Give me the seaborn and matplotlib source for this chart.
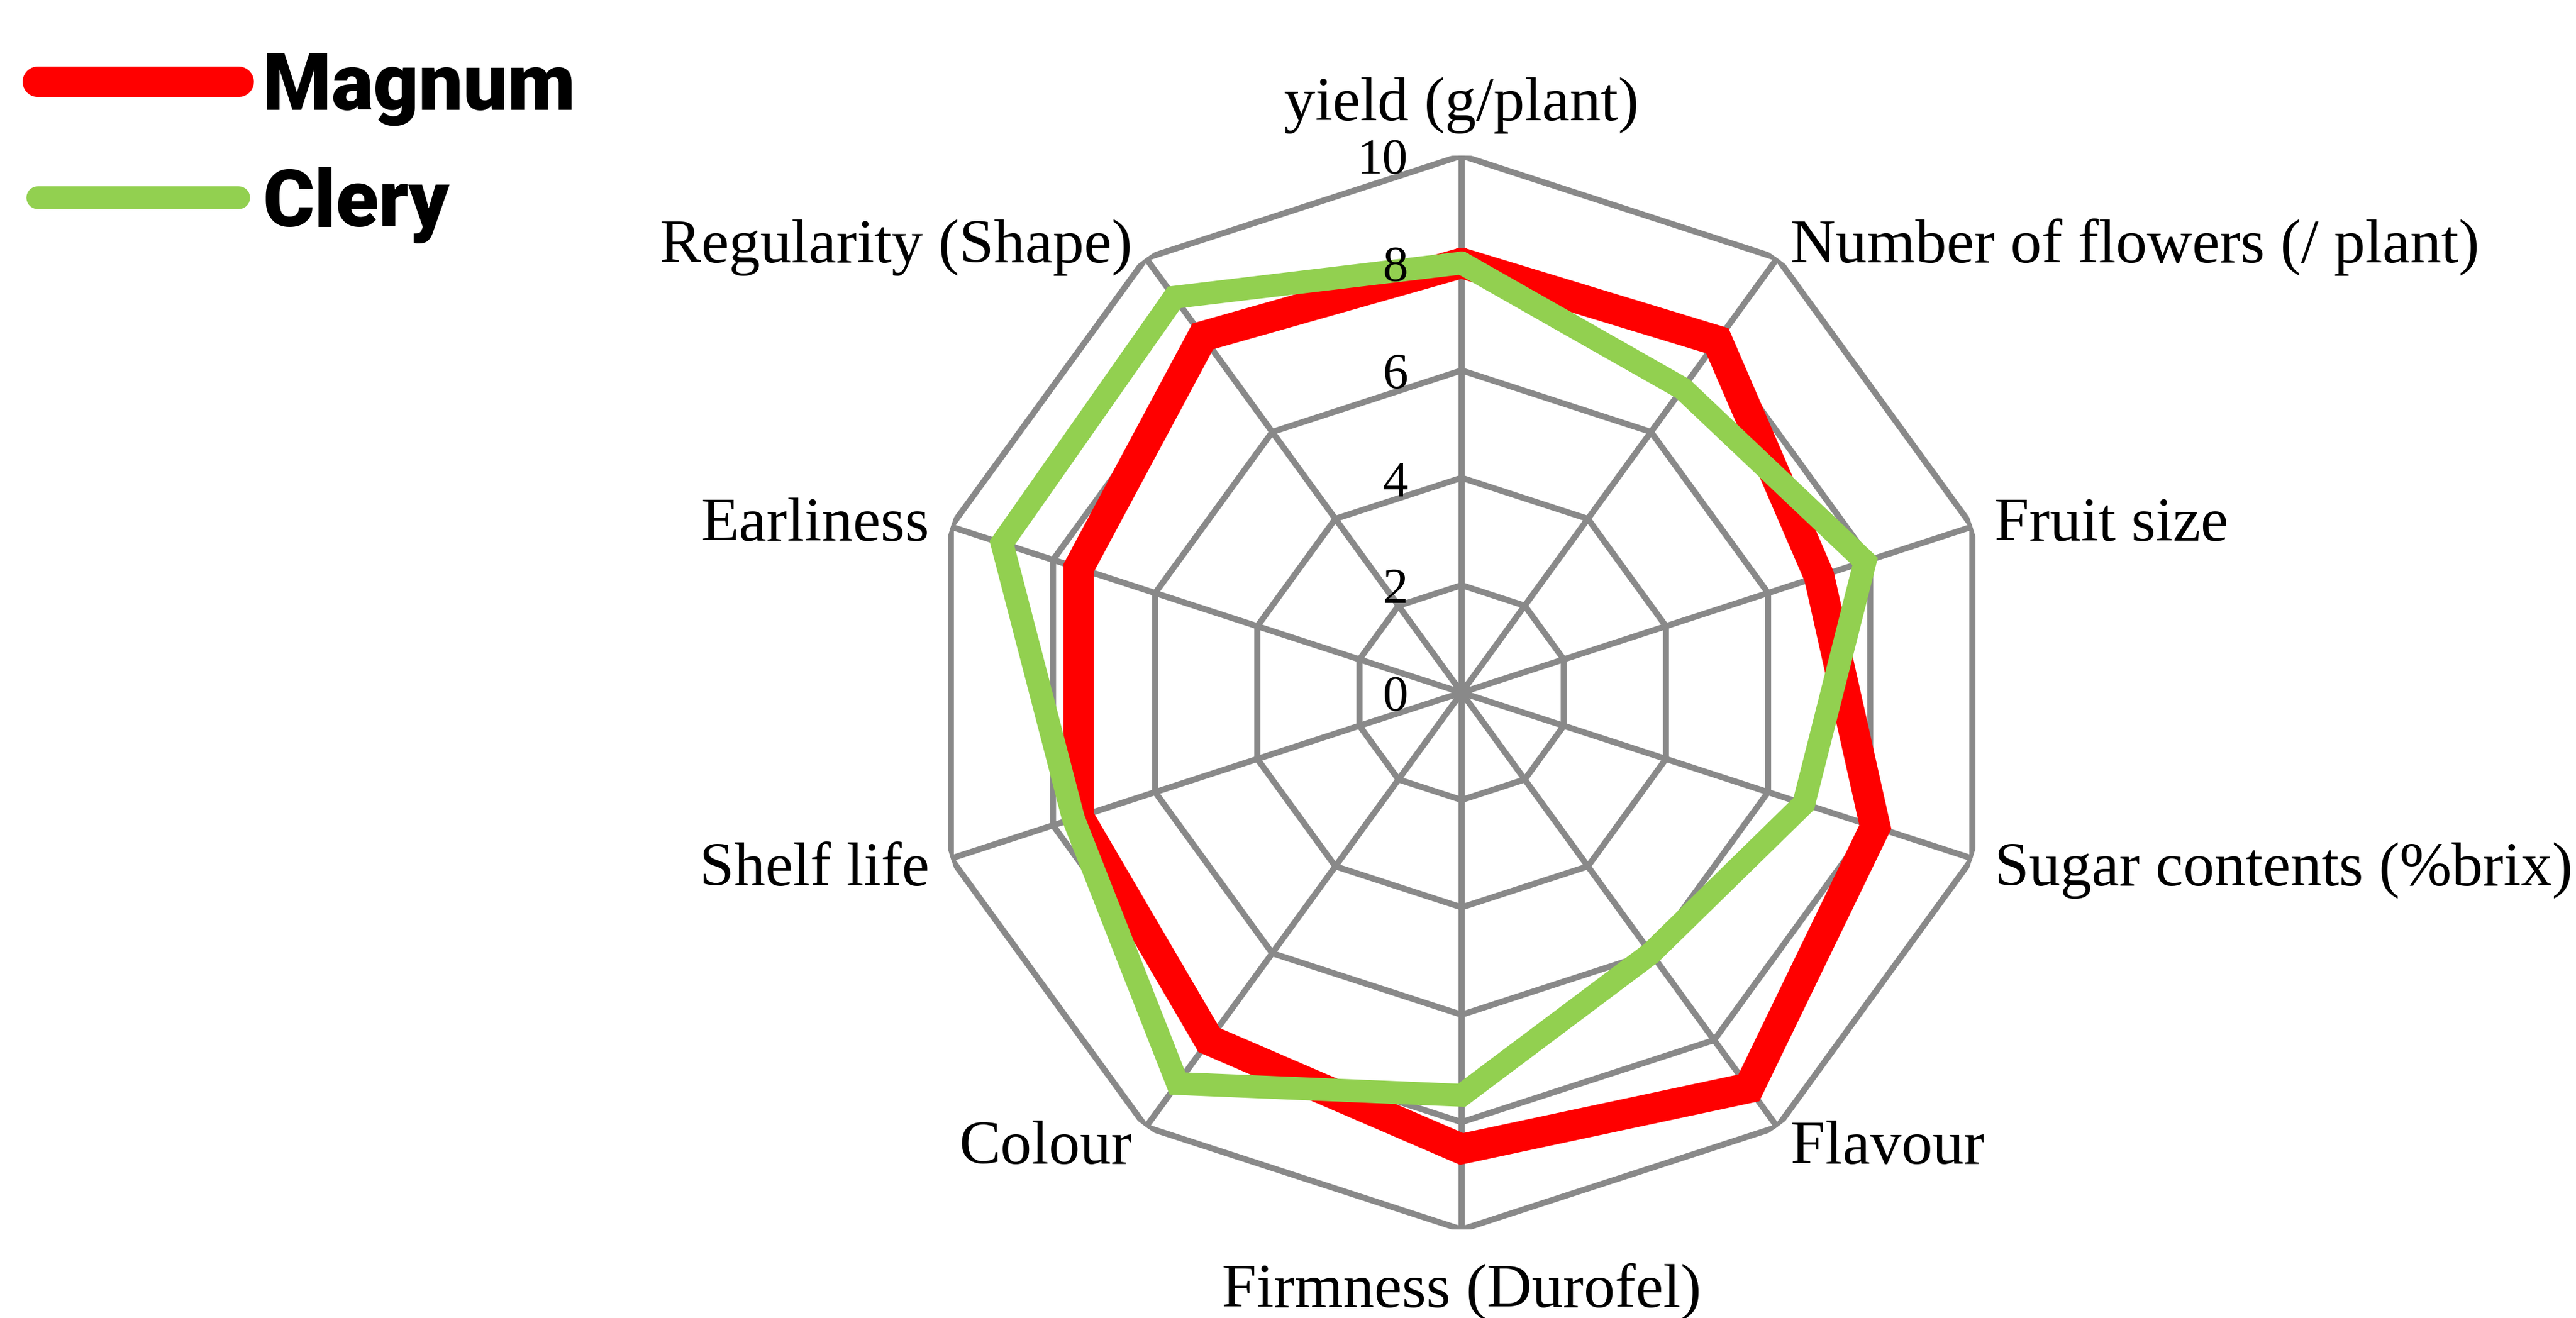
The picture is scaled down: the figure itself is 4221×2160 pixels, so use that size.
import numpy as np
import pandas as pd
import seaborn as sns
import matplotlib.pyplot as plt
from matplotlib import transforms as mtransforms

# data
categories = ['yield (g/plant)', 'Number of flowers (/ plant)', 'Fruit size',
              'Sugar contents (%brix)', 'Flavour', 'Firmness (Durofel)', 'Colour',
              'Shelf life', 'Earliness', 'Regularity (Shape)']
magnum = [8.0, 8.1, 7.0, 8.1, 9.1, 8.5, 8.0, 7.5, 7.5, 8.2]
clery = [8.0, 7.0, 7.9, 6.7, 6.0, 7.5, 9.0, 7.6, 9.0, 9.1]
r_ticks = [0, 2, 4, 6, 8, 10]

sns.set_style('white')
plt.rcParams['font.family'] = ['Liberation Serif', 'DejaVu Serif']
plt.rcParams['text.color'] = 'black'

n = len(categories)
angles = np.linspace(0, 2 * np.pi, n, endpoint=False)
closed = np.append(angles, angles[0])

df = pd.DataFrame({
    'theta': np.concatenate([closed, closed]),
    'value': magnum + [magnum[0]] + clery + [clery[0]],
    'variety': ['Magnum'] * (n + 1) + ['Clery'] * (n + 1),
})

fig = plt.figure(figsize=(14.07, 7.2033), dpi=300)
cx, cy = 0.5674, 0.4743
rw, rh = 0.2085, 0.4072
ax = fig.add_axes([cx - rw, cy - rh, 2 * rw, 2 * rh], projection='polar')
ax.set_theta_zero_location('N')
ax.set_theta_direction(-1)
ax.set_ylim(0, 10)
ax.grid(False)
ax.spines['polar'].set_visible(False)
ax.set_xticks([])
ax.set_yticks([])

# polygon grid like excel
grid_col = '#898989'
for r in r_ticks[1:]:
    ax.plot(closed, [r] * (n + 1), color=grid_col, lw=2.4, zorder=1)
for a in angles:
    ax.plot([a, a], [0, 10], color=grid_col, lw=2.4, zorder=1)

styles = {'Magnum': ('#FF0000', 12), 'Clery': ('#92D050', 9)}
for name in ['Magnum', 'Clery']:
    col, lw = styles[name]
    sns.lineplot(data=df[df['variety'] == name], x='theta', y='value', sort=False,
                 estimator=None, color=col, lw=lw, label=name, ax=ax, zorder=3,
                 solid_joinstyle='miter', solid_capstyle='round')
ax.set_xlabel('')
ax.set_ylabel('')

# radial tick labels on the top spoke
tick_tr = mtransforms.offset_copy(ax.transData, fig=fig, x=-21, y=-2, units='points')
for r in r_ticks:
    ax.text(0, r, str(r), transform=tick_tr, ha='right', va='center', fontsize=20,
            color='black', zorder=4)

# category labels
for a, lab in zip(angles, categories):
    s, c = np.sin(a), np.cos(a)
    if abs(s) < 0.01:
        dx, dy, ha = 0, 22 * np.sign(c) - 2, 'center'
    else:
        dx, dy = 9 * s, 8 * c - 2
        ha = 'left' if s > 0 else 'right'
    tr = mtransforms.offset_copy(ax.transData, fig=fig, x=dx, y=dy, units='points')
    ax.text(a, 10, lab, transform=tr, ha=ha, va='center', fontsize=24.5, color='black')

leg = ax.legend(loc='upper left', bbox_to_anchor=(62 / 4221, 1 - 83 / 2161),
                bbox_transform=fig.transFigure, frameon=False, borderpad=0,
                borderaxespad=0, handlelength=2.55, handletextpad=0.3,
                labelspacing=0.52, prop={'family': 'Roboto', 'weight': 'black', 'size': 31})
for h in leg.get_lines():
    h.set_solid_capstyle('round')
for t in leg.get_texts():
    t.set_color('black')

fig.savefig('out.png', dpi=300, facecolor='white')
